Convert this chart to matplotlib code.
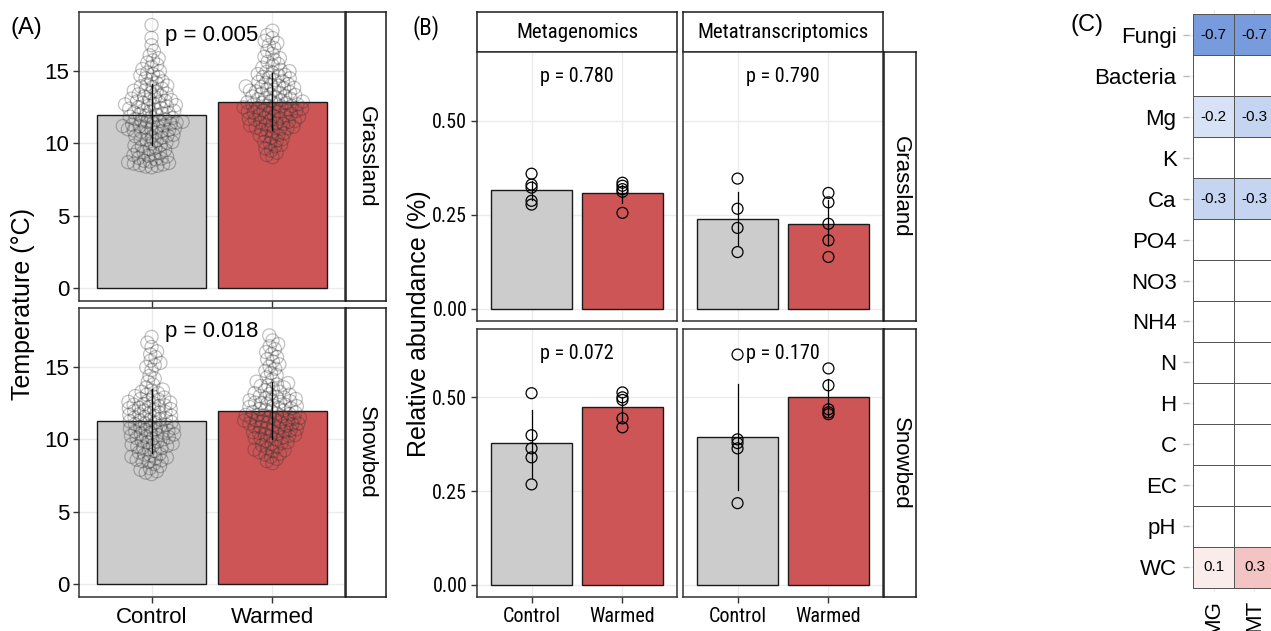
import matplotlib
matplotlib.use('Agg')
import matplotlib.pyplot as plt
import numpy as np
from matplotlib import font_manager
from matplotlib.colors import LinearSegmentedColormap, Normalize

plt.rcParams['font.family'] = ['Liberation Sans', 'DejaVu Sans']

W, H = 1271, 631

# ---------------- data ----------------
groups = ['Control', 'Warmed']
habitats = ['Grassland', 'Snowbed']
omics = ['Metagenomics', 'Metatranscriptomics']

# (A) temperature per habitat: bar means, SDs, individual observations
temp_mean = {'Grassland': [12.0, 12.9], 'Snowbed': [11.26, 12.0]}
temp_sd = {'Grassland': [2.1, 1.95], 'Snowbed': [2.2, 2.0]}
temp_p = {'Grassland': 'p = 0.005', 'Snowbed': 'p = 0.018'}

grass_control = [
    8.35, 8.4, 8.45, 8.5, 8.55, 8.6, 8.65, 8.7, 8.75, 8.8, 8.9, 8.95,
    9.0, 9.1, 9.15, 9.2, 9.3, 9.35, 9.4, 9.5, 9.55, 9.6, 9.7, 9.8, 9.85, 9.9,
    10.0, 10.05, 10.1, 10.2, 10.25, 10.3, 10.4, 10.45, 10.5, 10.55, 10.6, 10.7, 10.75, 10.8, 10.85, 10.9,
    10.95, 10.98,
    11.0, 11.05, 11.1, 11.15, 11.2, 11.25, 11.3, 11.35, 11.4, 11.45, 11.5, 11.55, 11.6, 11.65, 11.7,
    11.75, 11.8, 11.85, 11.9, 11.95, 11.5, 11.2,
    12.0, 12.05, 12.1, 12.15, 12.2, 12.25, 12.3, 12.35, 12.4, 12.45, 12.5, 12.55, 12.6, 12.65, 12.7,
    12.75, 12.8, 12.85, 12.9, 12.95,
    13.0, 13.05, 13.1, 13.2, 13.25, 13.3, 13.4, 13.45, 13.5, 13.6, 13.65, 13.7, 13.8, 13.9, 13.95,
    14.0, 14.1, 14.2, 14.3, 14.4, 14.5, 14.6, 14.7, 14.8, 14.9,
    15.0, 15.15, 15.3, 15.45, 15.6, 15.75, 15.9,
    16.1, 16.4, 16.8, 17.3, 18.2]
grass_warmed = [
    9.05, 9.2, 9.35, 9.5, 9.65, 9.8, 9.9,
    10.0, 10.1, 10.2, 10.3, 10.4, 10.5, 10.55, 10.6, 10.7, 10.8, 10.9, 10.95,
    11.0, 11.05, 11.1, 11.15, 11.2, 11.25, 11.3, 11.35, 11.4, 11.45, 11.5, 11.55, 11.6, 11.65, 11.7,
    11.75, 11.8, 11.85, 11.9, 11.95,
    12.0, 12.05, 12.1, 12.15, 12.2, 12.25, 12.3, 12.35, 12.4, 12.45, 12.5, 12.55, 12.6, 12.65, 12.7,
    12.75, 12.8, 12.85, 12.9, 12.95, 12.2, 12.4, 12.6, 12.8,
    13.0, 13.05, 13.1, 13.15, 13.2, 13.25, 13.3, 13.35, 13.4, 13.45, 13.5, 13.55, 13.6, 13.65, 13.7,
    13.75, 13.8, 13.85, 13.9, 13.95,
    14.0, 14.05, 14.1, 14.2, 14.25, 14.3, 14.4, 14.5, 14.55, 14.6, 14.7, 14.75, 14.8, 14.9, 14.95,
    15.0, 15.1, 15.25, 15.4, 15.5, 15.65, 15.8, 15.9,
    16.0, 16.2, 16.4, 16.6, 16.8, 16.95,
    17.1, 17.3, 17.5, 17.8]
snow_control = [
    7.6, 7.7, 7.8, 7.9, 8.0, 8.15, 8.3, 8.45,
    8.5, 8.55, 8.6, 8.7, 8.75, 8.8, 8.9, 8.95, 9.0, 9.1, 9.2, 9.3, 9.4, 9.45,
    9.5, 9.55, 9.6, 9.65, 9.7, 9.8, 9.85, 9.9, 10.0, 10.05, 10.1, 10.15, 10.2, 10.25, 10.3, 10.35,
    10.4, 10.45,
    10.5, 10.55, 10.6, 10.65, 10.7, 10.75, 10.8, 10.85, 10.9, 10.95, 11.0, 11.05, 11.1, 11.15, 11.2,
    11.25, 11.3, 11.35, 11.4, 11.45,
    11.5, 11.55, 11.6, 11.65, 11.7, 11.75, 11.8, 11.85, 11.9, 11.95, 12.0, 12.05, 12.1, 12.15, 12.2,
    12.25, 12.3, 12.35, 12.4, 12.45,
    12.5, 12.55, 12.6, 12.7, 12.75, 12.8, 12.9, 12.95, 13.0, 13.1, 13.2, 13.3, 13.4, 13.45,
    13.6, 13.8, 14.0, 14.2, 14.4,
    14.8, 15.0, 15.15, 15.3, 15.45,
    15.7, 15.9, 16.1, 16.4, 16.7, 17.1]
snow_warmed = [
    8.35, 8.5, 8.65, 8.8, 8.95,
    9.0, 9.1, 9.2, 9.25, 9.3, 9.4, 9.5, 9.6, 9.7, 9.75, 9.8, 9.9,
    10.0, 10.05, 10.1, 10.15, 10.2, 10.25, 10.3, 10.35, 10.4, 10.45, 10.5, 10.55, 10.6, 10.65, 10.7,
    10.75, 10.8, 10.85, 10.9, 10.95,
    11.0, 11.05, 11.1, 11.15, 11.2, 11.25, 11.3, 11.35, 11.4, 11.45, 11.5, 11.55, 11.6, 11.65, 11.7,
    11.75, 11.8, 11.85, 11.9, 11.95, 11.3, 11.5, 11.7, 11.1,
    12.0, 12.05, 12.1, 12.15, 12.2, 12.25, 12.3, 12.35, 12.4, 12.45, 12.5, 12.55, 12.6, 12.65, 12.7,
    12.75, 12.8, 12.85, 12.9, 12.95,
    13.0, 13.1, 13.15, 13.2, 13.3, 13.4, 13.5, 13.6, 13.7, 13.75, 13.8, 13.9,
    14.0, 14.15, 14.3, 14.45, 14.6, 14.75, 14.9,
    15.05, 15.2, 15.4, 15.55, 15.7, 15.9,
    16.05, 16.25, 16.45, 16.6, 16.85, 17.2]
temp_points = {'Grassland': [grass_control, grass_warmed],
               'Snowbed': [snow_control, snow_warmed]}

# (B) relative abundance: bar means, error bar (low, high), replicate points
abund_mean = {
    ('Grassland', 'Metagenomics'): [0.315, 0.307],
    ('Grassland', 'Metatranscriptomics'): [0.240, 0.226],
    ('Snowbed', 'Metagenomics'): [0.378, 0.473],
    ('Snowbed', 'Metatranscriptomics'): [0.394, 0.500],
}
abund_err = {
    ('Grassland', 'Metagenomics'): [(0.29, 0.34), (0.28, 0.33)],
    ('Grassland', 'Metatranscriptomics'): [(0.17, 0.31), (0.17, 0.29)],
    ('Snowbed', 'Metagenomics'): [(0.285, 0.465), (0.44, 0.50)],
    ('Snowbed', 'Metatranscriptomics'): [(0.253, 0.535), (0.45, 0.55)],
}
abund_points = {
    ('Grassland', 'Metagenomics'): [[0.359, 0.330, 0.322, 0.287, 0.277],
                                    [0.335, 0.327, 0.318, 0.311, 0.255]],
    ('Grassland', 'Metatranscriptomics'): [[0.346, 0.266, 0.215, 0.151],
                                           [0.308, 0.283, 0.226, 0.182, 0.138]],
    ('Snowbed', 'Metagenomics'): [[0.511, 0.399, 0.364, 0.340, 0.268],
                                  [0.513, 0.500, 0.493, 0.444, 0.420]],
    ('Snowbed', 'Metatranscriptomics'): [[0.614, 0.388, 0.378, 0.364, 0.218],
                                         [0.577, 0.532, 0.468, 0.460, 0.455]],
}
abund_p = {
    ('Grassland', 'Metagenomics'): 'p = 0.780',
    ('Grassland', 'Metatranscriptomics'): 'p = 0.790',
    ('Snowbed', 'Metagenomics'): 'p = 0.072',
    ('Snowbed', 'Metatranscriptomics'): 'p = 0.170',
}

# (C) correlation heatmap
heat_rows = ['Fungi', 'Bacteria', 'Mg', 'K', 'Ca', 'PO4', 'NO3', 'NH4', 'N', 'H', 'C', 'EC', 'pH', 'WC']
heat_cols = ['MG', 'MT']
heat_mg = [-0.7, np.nan, -0.2, np.nan, -0.3, np.nan, np.nan, np.nan, np.nan, np.nan, np.nan, np.nan, np.nan, 0.1]
heat_mt = [-0.7, np.nan, -0.3, np.nan, -0.3, np.nan, np.nan, np.nan, np.nan, np.nan, np.nan, np.nan, np.nan, 0.3]

bar_colors = ['#CCCCCC', '#CD5555']

# panel B of the original is squeezed horizontally, so use a narrow face there
names = {f.name for f in font_manager.fontManager.ttflist}
narrow, nsize = 'Liberation Sans', 13.5
for cand in ['Roboto Condensed', 'Archivo Narrow', 'IBM Plex Sans Condensed']:
    if cand in names:
        narrow, nsize = cand, 14.5
        break

fig = plt.figure(figsize=(W / 100, H / 100), dpi=100)


def px_axes(x0, y0, x1, y1):
    return fig.add_axes([x0 / W, 1 - y1 / H, (x1 - x0) / W, (y1 - y0) / H])


def strip(x0, y0, x1, y1, label, rot, fam, size):
    s = px_axes(x0, y0, x1, y1)
    s.set_xticks([])
    s.set_yticks([])
    for sp in s.spines.values():
        sp.set_color('#1a1a1a')
        sp.set_linewidth(1.1)
    s.text(0.5, 0.5, label, transform=s.transAxes, rotation=rot, ha='center',
           va='center', fontsize=size, family=fam)
    return s


def style_panel(ax, fam, size):
    ax.set_xlim(0.4, 2.6)
    ax.grid(True, color='#EBEBEB', linewidth=1.0)
    ax.set_axisbelow(True)
    for sp in ax.spines.values():
        sp.set_color('#333333')
        sp.set_linewidth(1.1)
    ax.tick_params(length=4, width=1, color='#333333', pad=3, labelsize=size)
    for lab in ax.get_xticklabels() + ax.get_yticklabels():
        lab.set_family(fam)


def swarm_offsets(yvals_px, d):
    order = np.argsort(yvals_px, kind='stable')
    px_list, py_list = [], []
    offs = np.zeros(len(yvals_px))
    for i in order:
        y = yvals_px[i]
        near = [(a, b) for a, b in zip(px_list, py_list) if abs(b - y) < d]
        cands = [0.0]
        for a, b in near:
            dx = np.sqrt(d * d - (b - y) ** 2)
            cands += [a + dx, a - dx]
        cands.sort(key=lambda c: (round(abs(c), 6), c))
        chosen = 0.0
        for c in cands:
            if all((c - a) ** 2 + (y - b) ** 2 >= d * d - 1e-6 for a, b in near):
                chosen = c
                break
        offs[i] = chosen
        px_list.append(chosen)
        py_list.append(y)
    return offs


# ---------------- panel A ----------------
a_rows = [(12, 301), (308, 597)]
for (y0, y1), hab in zip(a_rows, habitats):
    ax = px_axes(79, y0, 345, y1)
    ax.set_ylim(-0.91, 19.1)
    xs = np.arange(1, 3)
    ax.bar(xs, temp_mean[hab], width=0.9, color=bar_colors, edgecolor='#1a1a1a', linewidth=1.0, zorder=2)
    ypx_per = (y1 - y0) / (19.1 + 0.91)
    xpx_per = (345 - 79) / 2.2
    for k, pts in enumerate(temp_points[hab]):
        pts = np.array(pts)
        offs = swarm_offsets(pts * ypx_per, 6.0) / xpx_per
        ax.scatter(xs[k] + offs, pts, s=90, facecolors='none',
                   edgecolors=(0.2, 0.2, 0.2, 0.3), linewidths=0.9, zorder=3)
        m, sd = temp_mean[hab][k], temp_sd[hab][k]
        ax.plot([xs[k], xs[k]], [m - sd, m + sd], color='black', linewidth=1.0, zorder=4)
    ax.text(1.5, 17.5, temp_p[hab], ha='center', va='center', fontsize=16, zorder=5)
    ax.set_yticks([0, 5, 10, 15])
    ax.set_xticks(xs)
    ax.set_xticklabels(groups if hab == 'Snowbed' else ['', ''])
    if hab == 'Grassland':
        ax.tick_params(axis='x', length=0)
    style_panel(ax, 'Liberation Sans', 16)
    strip(346, y0, 386, y1, hab, -90, 'Liberation Sans', 16)

fig.text(23 / W, 1 - 304 / H, 'Temperature (°C)', rotation=90, ha='center', va='center', fontsize=18)
fig.text(10 / W, 1 - 28 / H, '(A)', ha='left', va='center', fontsize=17)

# ---------------- panel B ----------------
b_cols = [(477, 677), (683, 883)]
b_rows = [(52, 321), (329, 597)]
for (x0, x1), om in zip(b_cols, omics):
    strip(x0, 12, x1, 52, om, 0, narrow, nsize + 0.5)
for (y0, y1), hab in zip(b_rows, habitats):
    for ci, ((x0, x1), om) in enumerate(zip(b_cols, omics)):
        ax = px_axes(x0, y0, x1, y1)
        ax.set_ylim(-0.032, 0.682)
        xs = np.arange(1, 3)
        key = (hab, om)
        ax.bar(xs, abund_mean[key], width=0.9, color=bar_colors, edgecolor='#1a1a1a', linewidth=1.0, zorder=2)
        for k in range(2):
            lo, hi = abund_err[key][k]
            ax.plot([xs[k], xs[k]], [lo, hi], color='black', linewidth=0.9, zorder=3)
            pts = abund_points[key][k]
            ax.scatter([xs[k]] * len(pts), pts, s=62, facecolors='none', edgecolors='black',
                       linewidths=0.9, zorder=4)
        ax.text(1.5, 0.617, abund_p[key], ha='center', va='center', fontsize=nsize, family=narrow, zorder=5)
        ax.set_yticks([0, 0.25, 0.5])
        ax.set_yticklabels(['0.00', '0.25', '0.50'] if ci == 0 else [])
        ax.set_xticks(xs)
        ax.set_xticklabels(groups if hab == 'Snowbed' else ['', ''])
        style_panel(ax, narrow, nsize)
        if hab == 'Grassland':
            ax.tick_params(axis='x', length=0)
        if ci == 1:
            ax.tick_params(axis='y', length=0)
    strip(884, y0, 916, y1, hab, -90, 'Liberation Sans', 16)

fig.text(419 / W, 1 - 324 / H, 'Relative abundance (%)', rotation=90, ha='center', va='center', fontsize=18)
fig.text(412 / W, 1 - 28 / H, '(B)', ha='left', va='center', fontsize=nsize + 2, family=narrow)

# ---------------- panel C ----------------
axc = px_axes(1189, 10, 1279, 592)
vals = np.ma.masked_invalid(np.column_stack([heat_mg, heat_mt]))
cmap = LinearSegmentedColormap.from_list('rwb', ['#3E70D0', '#FFFFFF', '#DA3A3A']).with_extremes(bad='white')
n_rows = len(heat_rows)
axc.pcolormesh(np.arange(0.5, len(heat_cols) + 1), np.arange(0.5, n_rows + 1), vals,
               cmap=cmap, norm=Normalize(-1, 1), edgecolors='#555555', linewidth=0.6, zorder=2)
for r in range(n_rows):
    for c in range(len(heat_cols)):
        v = vals[r, c]
        if v is not np.ma.masked:
            axc.text(c + 1, r + 1, f'{v:.1f}', ha='center', va='center', fontsize=11, zorder=3)
axc.set_xlim(0.4, len(heat_cols) + 0.6)
axc.set_ylim(n_rows + 0.6, 0.4)
axc.set_yticks(np.arange(1, n_rows + 1))
axc.set_yticklabels(heat_rows)
axc.set_xticks(np.arange(1, len(heat_cols) + 1))
axc.set_xticklabels([])
axc.grid(True, color='#EBEBEB', linewidth=1.0)
axc.set_axisbelow(True)
for sp in axc.spines.values():
    sp.set_visible(False)
axc.tick_params(axis='y', length=4, width=1, color='#BBBBBB', pad=5, labelsize=16)
axc.tick_params(axis='x', length=0)
for c, name in enumerate(heat_cols):
    axc.text(c + 1, n_rows + 0.8, name, rotation=90, ha='center', va='top', fontsize=16)
fig.text(1070 / W, 1 - 25 / H, '(C)', ha='left', va='center', fontsize=17)

fig.savefig('out.png', dpi=100, facecolor='white')
